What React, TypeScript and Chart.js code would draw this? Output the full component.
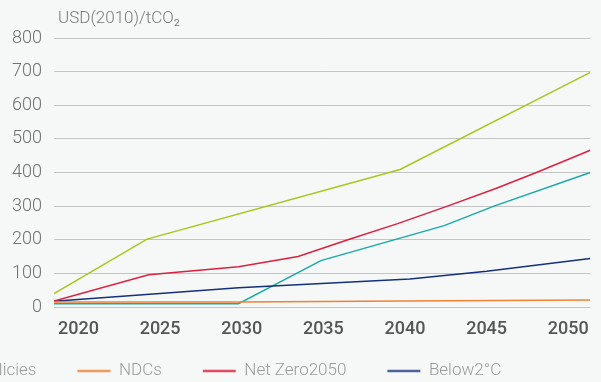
import React, { useEffect, useRef } from 'react';
import { Chart, registerables } from 'chart.js';

Chart.register(...registerables);

// ---------- data ----------
const UNIT_LABEL = 'USD(2010)/tCO₂';
const TICK_YEARS = [2020, 2025, 2030, 2035, 2040, 2045, 2050];
const X_MIN = 2018.5;
const X_MAX = 2051.35;
const Y_MIN = 0;
const Y_MAX = 800;
const Y_STEP = 100;

const currentPoliciesYears: number[] = [];
const currentPoliciesValues: number[] = [];

const ndcsYears = [2018.5, 2029.8, 2040.0, 2051.35];
const ndcsValues = [15, 15, 18, 21];

const netZeroYears = [2018.5, 2024.3, 2029.8, 2033.45, 2036.5, 2039.55, 2042.6, 2045.6, 2048.05, 2051.35];
const netZeroValues = [18, 96, 120, 150, 200, 248, 300, 353, 400, 466];

const below2Years = [2018.5, 2029.8, 2040.3, 2045.0, 2051.35];
const below2Values = [17, 57, 83, 106, 144];

const delayedYears = [2018.5, 2029.8, 2034.85, 2042.4, 2045.45, 2051.35];
const delayedValues = [10, 10, 138, 242, 300, 400];

const divergentYears = [2018.5, 2024.2, 2039.7, 2051.35];
const divergentValues = [40, 202, 409, 698];

const SERIES_LABELS = ['Current Policies', 'NDCs', 'Net Zero2050', 'Below2°C', 'Delayed transition', 'Divergent Net Zero'];
const LEGEND_SERIES = ['Current Policies', 'NDCs', 'Net Zero2050', 'Below2°C'];

// ---------- style ----------
const VIEW_W = 601;
const VIEW_H = 382;
const X_AXIS_H = 36;
const LEGEND_H = 65;
const PLOT_BOTTOM = 307;
const CANVAS_H = PLOT_BOTTOM + X_AXIS_H + LEGEND_H;
const LEGEND_TEXT_Y = 371;
const BG = '#f6f8f7';
const FONT_FAMILY = "Roboto, 'Noto Sans', sans-serif";
const COLORS = ['#8a8a8a', '#f08232', '#dc2040', '#14307a', '#1aa9a7', '#a9c61e'];
const LEGEND_COLORS = ['rgba(138,138,138,0.8)', 'rgba(240,130,50,0.8)', 'rgba(220,32,64,0.8)', 'rgba(20,48,122,0.75)'];
const LEGEND_FONT_SIZE = 17;
const LEGEND_GAP = 38;
const LEGEND_LINE = 33;
const LEGEND_LINE_GAP = 3;
const LEGEND_BOX = LEGEND_LINE + LEGEND_LINE_GAP;
const FIRST_VISIBLE_ITEM_X = 74.7;
const PLOT_LEFT = 54;
const TITLE_X = 58;

const toPoints = (xs: number[], ys: number[]) => xs.map((x, i) => ({ x, y: ys[i] }));

export default function App() {
  const ref = useRef<HTMLCanvasElement>(null);

  useEffect(() => {
    const canvas = ref.current!;
    const meas = document.createElement('canvas').getContext('2d')!;
    meas.font = `normal 300 ${LEGEND_FONT_SIZE}px ${FONT_FAMILY}`;
    const tw = meas.measureText(LEGEND_SERIES[0]).width;
    const shift = Math.round(2 * LEGEND_GAP + LEGEND_BOX + LEGEND_FONT_SIZE / 2 + tw - FIRST_VISIBLE_ITEM_X);
    const W = VIEW_W + shift;
    canvas.width = W;
    canvas.height = CANVAS_H;
    canvas.style.width = W + 'px';
    canvas.style.height = CANVAS_H + 'px';
    canvas.style.left = -shift + 'px';

    const layoutPlugin = {
      id: 'layoutTweaks',
      afterLayout(chart: any) {
        const lg = chart.legend;
        if (lg) {
          const natural = lg.top + LEGEND_GAP + LEGEND_FONT_SIZE / 2;
          const dy = natural - LEGEND_TEXT_Y;
          lg.top -= dy;
          lg.bottom -= dy;
        }
      },
      beforeDraw(chart: any) {
        const { ctx, width, height } = chart;
        ctx.save();
        ctx.fillStyle = BG;
        ctx.fillRect(0, 0, width, height);
        ctx.restore();
      },
      afterDraw(chart: any) {
        const { ctx } = chart;
        ctx.save();
        ctx.font = `300 17px ${FONT_FAMILY}`;
        ctx.fillStyle = '#7a7a7a';
        ctx.textAlign = 'left';
        ctx.textBaseline = 'alphabetic';
        ctx.fillText(UNIT_LABEL, shift + TITLE_X, 23);
        ctx.restore();
      },
    };

    const seriesData = [
      toPoints(currentPoliciesYears, currentPoliciesValues),
      toPoints(ndcsYears, ndcsValues),
      toPoints(netZeroYears, netZeroValues),
      toPoints(below2Years, below2Values),
      toPoints(delayedYears, delayedValues),
      toPoints(divergentYears, divergentValues),
    ];

    const chart = new Chart(canvas, {
      type: 'line',
      data: {
        datasets: seriesData.map((data, i) => ({
          label: SERIES_LABELS[i],
          data,
          borderColor: COLORS[i],
          backgroundColor: COLORS[i],
          borderWidth: 1.5,
          pointRadius: 0,
          tension: 0,
          fill: false,
        })),
      },
      options: {
        responsive: false,
        animation: false,
        devicePixelRatio: 1,
        layout: { padding: { top: 38, right: 7, bottom: 0, left: 0 } },
        scales: {
          x: {
            type: 'linear',
            min: X_MIN,
            max: X_MAX,
            afterBuildTicks: (axis: any) => {
              axis.ticks = TICK_YEARS.map((v) => ({ value: v }));
            },
            afterFit: (scale: any) => {
              scale.height = X_AXIS_H;
            },
            grid: { display: false, drawTicks: false },
            border: { display: false },
            ticks: {
              padding: 12,
              color: '#555555',
              font: { family: FONT_FAMILY, size: 18, weight: '500' },
              callback: (v: any) => String(v),
              maxRotation: 0,
              autoSkip: false,
            },
          },
          y: {
            min: Y_MIN,
            max: Y_MAX,
            afterFit: (scale: any) => {
              scale.width = shift + PLOT_LEFT;
            },
            grid: { color: '#c4c4c4', lineWidth: 1, drawTicks: false },
            border: { display: false },
            ticks: {
              stepSize: Y_STEP,
              padding: 12,
              color: '#707070',
              font: { family: FONT_FAMILY, size: 18, weight: '300' },
              callback: (v: any) => String(v),
            },
          },
        },
        plugins: {
          title: { display: false },
          tooltip: { enabled: false },
          legend: {
            display: true,
            position: 'bottom',
            align: 'start',
            labels: {
              usePointStyle: true,
              pointStyle: 'line',
              pointStyleWidth: LEGEND_BOX,
              padding: LEGEND_GAP,
              color: '#9a9a9a',
              font: { family: FONT_FAMILY, size: LEGEND_FONT_SIZE, weight: '300' },
              generateLabels: (ch: any) =>
                ch.data.datasets
                  .map((ds: any, i: number) => ({
                    text: ds.label,
                    fillStyle: 'rgba(0,0,0,0)',
                    strokeStyle: LEGEND_COLORS[i],
                    lineWidth: 2.5,
                    lineDash: [LEGEND_LINE, 10],
                    lineDashOffset: LEGEND_LINE + 10 - LEGEND_LINE_GAP,
                    pointStyle: 'line',
                    hidden: false,
                    datasetIndex: i,
                    fontColor: '#9a9a9a',
                  }))
                  .filter((it: any) => LEGEND_SERIES.includes(it.text)),
            },
          },
        },
      },
      plugins: [layoutPlugin],
    } as any);

    return () => chart.destroy();
  }, []);

  return (
    <div
      style={{
        position: 'fixed',
        left: 0,
        top: 0,
        width: VIEW_W,
        height: VIEW_H,
        overflow: 'hidden',
        background: BG,
      }}
    >
      <canvas ref={ref} style={{ position: 'absolute', top: 0, display: 'block' }} />
    </div>
  );
}
